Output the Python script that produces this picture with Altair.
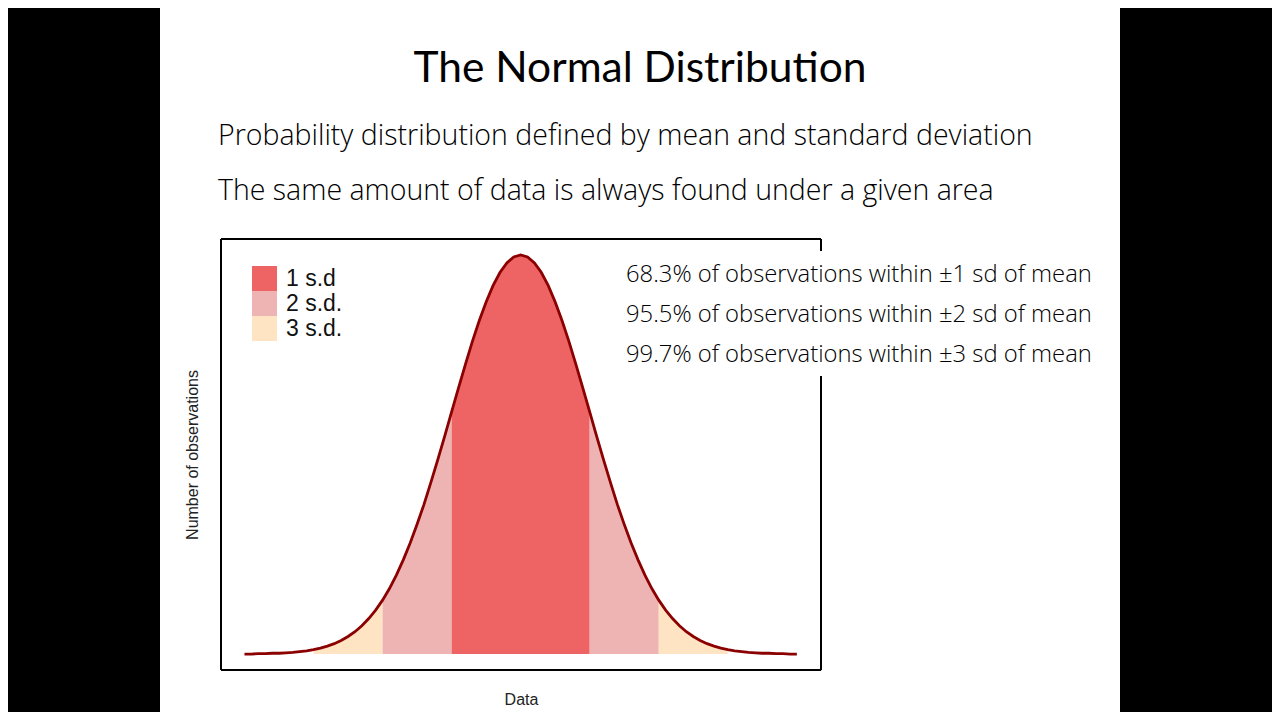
import altair as alt
import pandas as pd

# Values: relative curve height (peak = 1) at x in sd units
x_vals = [-4.0, -3.9, -3.8, -3.7, -3.6, -3.5, -3.4, -3.3, -3.2, -3.1,
          -3.0, -2.9, -2.8, -2.7, -2.6, -2.5, -2.4, -2.3, -2.2, -2.1,
          -2.0, -1.9, -1.8, -1.7, -1.6, -1.5, -1.4, -1.3, -1.2, -1.1,
          -1.0, -0.9, -0.8, -0.7, -0.6, -0.5, -0.4, -0.3, -0.2, -0.1,
          0.0, 0.1, 0.2, 0.3, 0.4, 0.5, 0.6, 0.7, 0.8, 0.9,
          1.0, 1.1, 1.2, 1.3, 1.4, 1.5, 1.6, 1.7, 1.8, 1.9,
          2.0, 2.1, 2.2, 2.3, 2.4, 2.5, 2.6, 2.7, 2.8, 2.9,
          3.0, 3.1, 3.2, 3.3, 3.4, 3.5, 3.6, 3.7, 3.8, 3.9, 4.0]
y_vals = [0.000, 0.000, 0.001, 0.001, 0.002, 0.002, 0.003, 0.004, 0.006, 0.008,
          0.011, 0.015, 0.020, 0.026, 0.034, 0.044, 0.056, 0.071, 0.089, 0.110,
          0.135, 0.164, 0.198, 0.236, 0.278, 0.325, 0.375, 0.430, 0.487, 0.546,
          0.607, 0.667, 0.726, 0.783, 0.835, 0.882, 0.923, 0.956, 0.980, 0.995,
          1.000, 0.995, 0.980, 0.956, 0.923, 0.882, 0.835, 0.783, 0.726, 0.667,
          0.607, 0.546, 0.487, 0.430, 0.375, 0.325, 0.278, 0.236, 0.198, 0.164,
          0.135, 0.110, 0.089, 0.071, 0.056, 0.044, 0.034, 0.026, 0.020, 0.015,
          0.011, 0.008, 0.006, 0.004, 0.003, 0.002, 0.002, 0.001, 0.001, 0.000, 0.000]

band_names = ["1 s.d", "2 s.d.", "3 s.d."]
band_colors = ["#EE6363", "#EEB4B4", "#FFE4C4"]
segments = [("L3", "3 s.d.", -3.0, -2.0), ("L2", "2 s.d.", -2.0, -1.0),
            ("C1", "1 s.d", -1.0, 1.0), ("R2", "2 s.d.", 1.0, 2.0),
            ("R3", "3 s.d.", 2.0, 3.0)]

title_text = "The Normal Distribution"
subtitle_lines = ["Probability distribution defined by mean and standard deviation",
                  "The same amount of data is always found under a given area"]
note_lines = ["68.3% of observations within \u00b11 sd of mean",
              "95.5% of observations within \u00b12 sd of mean",
              "99.7% of observations within \u00b13 sd of mean"]

curve = pd.DataFrame({"x": x_vals, "y": y_vals})
rows = []
for seg, band, lo, hi in segments:
    for xv, yv in zip(x_vals, y_vals):
        if lo - 1e-9 <= xv <= hi + 1e-9:
            rows.append({"x": xv, "y": yv, "y0": 0.0, "band": band, "seg": seg})
areas = pd.DataFrame(rows)

W, H = 600, 431
xs = alt.Scale(domain=[-4.34, 4.35], nice=False, zero=False)
ys = alt.Scale(domain=[-0.04, 1.04], nice=False, zero=False)

area = alt.Chart(areas).mark_area(opacity=1, interpolate="linear").encode(
    x=alt.X("x:Q", scale=xs, axis=alt.Axis(title="Data", labels=False, ticks=False,
                                             domain=False, grid=False, titleFontSize=16,
                                             titleFont="Liberation Sans", titleFontWeight="normal",
                                             titleColor="#222222", titlePadding=21)),
    y=alt.Y("y:Q", scale=ys, stack=None,
            axis=alt.Axis(title="Number of observations", labels=False,
                          ticks=False, domain=False, grid=False,
                          titleFontSize=16, titleFont="Liberation Sans",
                          titleFontWeight="normal", titleColor="#222222",
                          titlePadding=21)),
    y2="y0:Q",
    color=alt.Color("band:N", scale=alt.Scale(domain=band_names, range=band_colors),
                    legend=alt.Legend(title=None, orient="none", legendX=31, legendY=27,
                                      symbolType="square", symbolSize=625, symbolStrokeWidth=0,
                                      symbolOpacity=1, labelFontSize=23,
                                      labelFont="Liberation Sans", labelColor="#111111",
                                      labelOffset=9, rowPadding=0, padding=0)),
    detail="seg:N",
)

line = alt.Chart(curve).mark_line(color="#8B0000", strokeWidth=2.8).encode(
    x=alt.X("x:Q", scale=xs), y=alt.Y("y:Q", scale=ys))

frame = alt.Chart(curve).mark_rect(fillOpacity=0, stroke="#000000", strokeWidth=1).encode(
    x=alt.value(0), x2=alt.value(W), y=alt.value(0), y2=alt.value(H))

white_box = alt.Chart(curve).mark_rect(fill="white").encode(
    x=alt.value(394), x2=alt.value(884), y=alt.value(12), y2=alt.value(137))

black_left = alt.Chart(curve).mark_rect(fill="black").encode(
    x=alt.value(-213), x2=alt.value(-61), y=alt.value(-231), y2=alt.value(473))
black_right = alt.Chart(curve).mark_rect(fill="black").encode(
    x=alt.value(899), x2=alt.value(1051), y=alt.value(-231), y2=alt.value(473))

title = alt.Chart(pd.DataFrame({"t": [title_text]})).mark_text(
    font="Lato", fontSize=42.5, align="center", baseline="alphabetic", color="black").encode(
    text="t:N", x=alt.value(419), y=alt.value(-157))

sub = alt.Chart(pd.DataFrame({"t": subtitle_lines, "yy": [-94, -39]})).mark_text(
    font="Open Sans", fontWeight=300, fontSize=28.5, align="left", baseline="alphabetic",
    color="black").encode(text="t:N", x=alt.value(-3), y=alt.Y("yy:Q", scale=None))

notes = alt.Chart(pd.DataFrame({"t": note_lines, "yy": [43, 83, 123]})).mark_text(
    font="Open Sans", fontWeight=300, fontSize=23.8, align="left", baseline="alphabetic",
    color="black").encode(text="t:N", x=alt.value(405), y=alt.Y("yy:Q", scale=None))

chart = alt.layer(area, line, frame, white_box, notes, black_left, black_right, title, sub).properties(
    width=W, height=H,
    autosize=alt.AutoSizeParams(type="none"),
    padding={"left": 213, "top": 231, "right": 451, "bottom": 42},
).configure_view(stroke=None).configure(background="white")

chart.save("out.html", embed_options={"renderer": "svg", "actions": False})
